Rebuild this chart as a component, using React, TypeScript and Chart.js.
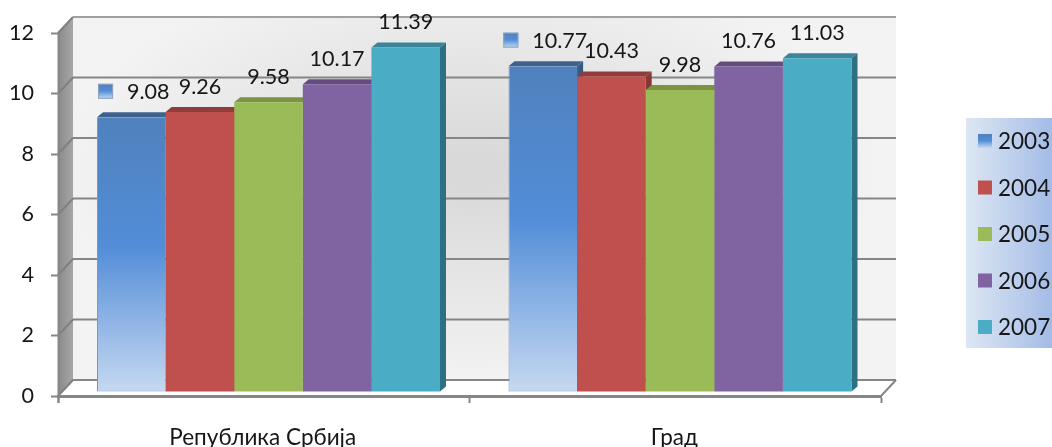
import React, { useEffect, useRef } from "react";
import { Chart, registerables } from "chart.js";

Chart.register(...registerables);

const categories = ["Република Србија", "Град"];
const years = ["2003", "2004", "2005", "2006", "2007"];
const values2003 = [9.08, 10.77];
const values2004 = [9.26, 10.43];
const values2005 = [9.58, 9.98];
const values2006 = [10.17, 10.76];
const values2007 = [11.39, 11.03];
const yTicks = [0, 2, 4, 6, 8, 10, 12];

const series = [values2003, values2004, values2005, values2006, values2007];
const fronts = ["#4f81bd", "#c0504d", "#9bbb59", "#8064a2", "#4bacc6"];
const tops = ["#3d628f", "#8f3c3a", "#7a9442", "#644c80", "#3a859a"];
const sides = ["#375a85", "#873836", "#708a3c", "#5c4676", "#2f6f82"];

const FONT = "Lato, 'Open Sans', 'Noto Sans', sans-serif";
const TEXT = "#161616";
const GRID = "#868686";
const WALL_DX = 15;
const WALL_DY = 16;
const BAR_SHIFT_X = 4.75;
const BAR_SHIFT_Y = -4;
const CAP_DX = 6;
const CAP_DY = 5;

function blueGradient(c: any, fromY: number, toY: number) {
  const g = c.createLinearGradient(0, fromY, 0, toY);
  g.addColorStop(0, "#4f81bd");
  g.addColorStop(0.47, "#538dd8");
  g.addColorStop(1, "#c6d9f1");
  return g;
}

const walls = {
  id: "walls",
  beforeDraw(chart: any) {
    const { ctx, chartArea: a, scales } = chart;
    const y = scales.y;
    const L = a.left, R = a.right, T = a.top, B = a.bottom;
    ctx.save();
    // back wall
    ctx.beginPath();
    ctx.rect(L + WALL_DX, T - WALL_DY, R - L, B - T);
    ctx.save();
    ctx.clip();
    const cx = 470, cy = 170;
    ctx.translate(cx, cy);
    ctx.scale(1, 0.52);
    const rg = ctx.createRadialGradient(0, 0, 30, 0, 0, 410);
    rg.addColorStop(0, "#d9d9d9");
    rg.addColorStop(1, "#f3f3f3");
    ctx.fillStyle = rg;
    ctx.fillRect(-600, -800, 1200, 1600);
    ctx.restore();
    // left wall
    const lg = ctx.createLinearGradient(L, 0, L + WALL_DX, 0);
    lg.addColorStop(0, "#8a8a8a");
    lg.addColorStop(1, "#a6a6a6");
    ctx.fillStyle = lg;
    ctx.beginPath();
    ctx.moveTo(L, T);
    ctx.lineTo(L + WALL_DX, T - WALL_DY);
    ctx.lineTo(L + WALL_DX, B - WALL_DY);
    ctx.lineTo(L, B);
    ctx.closePath();
    ctx.fill();
    // grid on back wall, slanted on the side wall and floor
    yTicks.forEach((v) => {
      const py = y.getPixelForValue(v);
      ctx.strokeStyle = v === 12 ? "#a0a0a0" : GRID;
      ctx.lineWidth = 2;
      ctx.beginPath();
      ctx.moveTo(L + WALL_DX, py - WALL_DY);
      ctx.lineTo(R + WALL_DX, py - WALL_DY);
      ctx.stroke();
      ctx.strokeStyle = "#808080";
      ctx.beginPath();
      ctx.moveTo(L, py);
      ctx.lineTo(L + WALL_DX, py - WALL_DY);
      ctx.stroke();
    });
    ctx.strokeStyle = GRID;
    ctx.lineWidth = 2;
    ctx.beginPath();
    ctx.moveTo(R, B);
    ctx.lineTo(R + WALL_DX, B - WALL_DY);
    ctx.stroke();
    ctx.beginPath();
    ctx.moveTo(L + 0.5, B + 7);
    ctx.lineTo(L + 0.5, T);
    ctx.stroke();
    ctx.restore();
  },
};

const barDepth = {
  id: "barDepth",
  beforeDatasetsDraw(chart: any) {
    const { ctx } = chart;
    ctx.save();
    ctx.translate(BAR_SHIFT_X, BAR_SHIFT_Y);
    categories.forEach((_, j) => {
      series.forEach((_s, i) => {
        const b = chart.getDatasetMeta(i).data[j];
        const l = b.x - b.width / 2;
        const r = b.x + b.width / 2;
        ctx.fillStyle = sides[i];
        ctx.beginPath();
        ctx.moveTo(r, b.y);
        ctx.lineTo(r + CAP_DX, b.y - CAP_DY);
        ctx.lineTo(r + CAP_DX, b.base - CAP_DY);
        ctx.lineTo(r, b.base);
        ctx.closePath();
        ctx.fill();
        ctx.fillStyle = tops[i];
        ctx.beginPath();
        ctx.moveTo(l, b.y);
        ctx.lineTo(l + CAP_DX, b.y - CAP_DY);
        ctx.lineTo(r + CAP_DX, b.y - CAP_DY);
        ctx.lineTo(r, b.y);
        ctx.closePath();
        ctx.fill();
      });
    });
  },
  afterDatasetsDraw(chart: any) {
    chart.ctx.restore();
  },
};

const dataLabels = {
  id: "dataLabels",
  afterDraw(chart: any) {
    const { ctx } = chart;
    ctx.save();
    ctx.font = `21.5px ${FONT}`;
    ctx.fillStyle = TEXT;
    ctx.textBaseline = "middle";
    ctx.textAlign = "left";
    series.forEach((vals, i) => {
      vals.forEach((v, j) => {
        const b = chart.getDatasetMeta(i).data[j];
        const text = v.toFixed(2);
        const tw = ctx.measureText(text).width;
        const cx = b.x + BAR_SHIFT_X;
        const cy = b.y + BAR_SHIFT_Y - 25;
        if (i === 0) {
          const keyW = 15, gap = 14;
          const total = keyW + gap + tw;
          const start = cx + 2.5 - total / 2;
          const ky = cy - 2 - keyW / 2 + 1;
          ctx.fillStyle = blueGradient(ctx, ky, ky + keyW);
          ctx.fillRect(start, ky, keyW, keyW);
          ctx.strokeStyle = "#8ea3bd";
          ctx.lineWidth = 1;
          ctx.strokeRect(start + 0.5, ky + 0.5, keyW - 1, keyW - 1);
          ctx.fillStyle = TEXT;
          ctx.fillText(text, start + keyW + gap, cy);
        } else {
          ctx.fillText(text, cx - tw / 2, cy);
        }
      });
    });
    // legend panel
    const boxL = 966, boxT = 118, boxB = 348, boxR = chart.width;
    const g = ctx.createLinearGradient(boxL, 0, boxR, 0);
    g.addColorStop(0, "#dde7f3");
    g.addColorStop(1, "#a3bce6");
    ctx.fillStyle = g;
    ctx.fillRect(boxL, boxT, boxR - boxL, boxB - boxT);
    const rowStart = 141, rowStep = 46.5;
    years.forEach((yr, i) => {
      const yy = rowStart + rowStep * i;
      if (i === 0) {
        ctx.fillStyle = blueGradient(ctx, yy - 7, yy + 7);
      } else {
        ctx.fillStyle = fronts[i];
      }
      ctx.fillRect(978, yy - 7, 14, 14);
      ctx.fillStyle = TEXT;
      ctx.font = `22.5px ${FONT}`;
      ctx.fillText(yr, 998, yy + 1);
    });
    ctx.restore();
  },
};

export default function App() {
  const ref = useRef<HTMLCanvasElement>(null);
  useEffect(() => {
    const canvas = ref.current!;
    const chart = new Chart(canvas, {
      type: "bar",
      data: {
        labels: categories,
        datasets: series.map((vals, i) => ({
          label: years[i],
          data: vals,
          clip: false,
          backgroundColor:
            i === 0
              ? (c: any) => {
                  const sc = c.chart.scales.y;
                  if (!sc || c.raw == null) return fronts[0];
                  const y0 = sc.getPixelForValue(c.raw);
                  const y1 = sc.getPixelForValue(0);
                  if (!Number.isFinite(y0) || !Number.isFinite(y1)) return fronts[0];
                  return blueGradient(c.chart.ctx, y0, y1);
                }
              : fronts[i],
          borderWidth: i === 0 ? { left: 1, bottom: 1, right: 0, top: 0 } : 0,
          borderColor: "#7e96b8",
          borderSkipped: false,
          categoryPercentage: 0.8335,
          barPercentage: 1,
        })),
      } as any,
      options: {
        responsive: false,
        animation: false,
        layout: { padding: { top: 33, right: 171, left: 0, bottom: 0 } },
        plugins: { legend: { display: false }, tooltip: { enabled: false } },
        scales: {
          x: {
            afterFit: (s: any) => { s.height = 51; },
            grid: { drawOnChartArea: false, drawTicks: true, tickLength: 7, tickColor: GRID, tickWidth: 2, offset: true },
            border: { display: true, color: GRID, width: 3 },
            ticks: {
              color: TEXT,
              font: { family: FONT, size: 22.5 },
              padding: 21,
              labelOffset: -1,
              maxRotation: 0,
              autoSkip: false,
            },
          },
          y: {
            min: 0,
            max: 12,
            afterFit: (s: any) => { s.width = 58; },
            afterBuildTicks: (s: any) => { s.ticks = yTicks.map((value) => ({ value })); },
            grid: { drawOnChartArea: false, drawTicks: true, tickLength: 7, tickColor: GRID, tickWidth: 2 },
            border: { display: false },
            ticks: { color: TEXT, font: { family: FONT, size: 21.5 }, padding: 17 },
          },
        },
      },
      plugins: [walls, barDepth, dataLabels],
    } as any);
    return () => chart.destroy();
  }, []);
  return (
    <div style={{ position: "fixed", left: 0, top: 0, width: 1052, height: 447, overflow: "hidden", background: "#fff" }}>
      <canvas ref={ref} width={1052} height={447} style={{ display: "block", width: 1052, height: 447, filter: "blur(0.35px)" }} />
    </div>
  );
}
